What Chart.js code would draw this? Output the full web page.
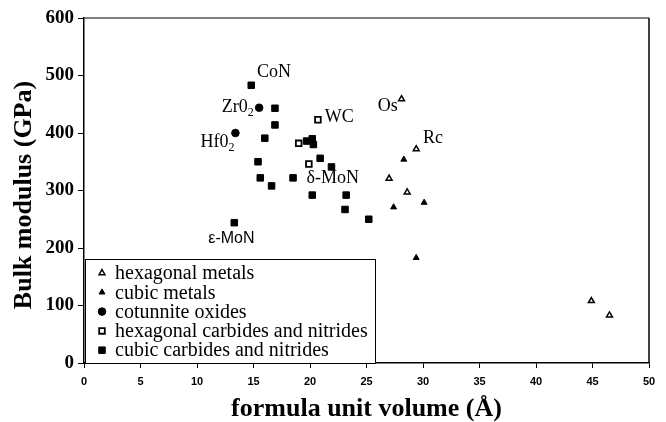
<!DOCTYPE html>
<html>
<head>
<meta charset="utf-8">
<script src="https://cdn.jsdelivr.net/npm/chart.js@4.4.1/dist/chart.umd.min.js"></script>
<style>
    html, body { margin: 0; padding: 0; background: #fff; }
    #wrap { width: 666px; height: 422px; }
</style>
</head>
<body>
<div id="wrap"><canvas id="bulkChart" width="666" height="422"></canvas></div>
<script>
// formula unit volume (x) / bulk modulus in GPa (y)
const hexMetalsX = [28.1, 29.4, 27.0, 28.6, 44.9, 46.5];
const hexMetalsY = [459, 372, 321, 297, 108, 83];

const cubicMetalsX = [28.3, 27.4, 30.1, 29.4];
const cubicMetalsY = [354, 271, 279, 183];

const cotunniteX = [15.5, 13.4];
const cotunniteY = [444, 400];

const hexCarbidesX = [20.7, 19.0, 19.9];
const hexCarbidesY = [423, 382, 346];

const cubicCarbidesX = [14.8, 16.9, 16.9, 16.0, 19.7, 20.2, 20.3, 20.9, 21.9, 15.4, 15.6, 16.6, 18.5, 20.2, 23.2, 23.1, 25.2, 13.3];
const cubicCarbidesY = [483, 443, 414, 391, 386, 390, 380, 356, 341, 350, 322, 308, 322, 292, 292, 267, 250, 244];

const seriesNames = [
    'hexagonal metals',
    'cubic metals',
    'cotunnite oxides',
    'hexagonal carbides and nitrides',
    'cubic carbides and nitrides'
];

const xTicks = { min: 0, max: 50, step: 5 };
const yTicks = { min: 0, max: 600, step: 100 };

// compound names placed next to their points
const labelTexts = ['CoN', 'Zr0', 'Hf0', 'WC', 'δ-MoN', 'ε-MoN', 'Os', 'Rc'];
const labelSubs = ['', '2', '2', '', '', '', '', ''];

const serif = '"Liberation Serif", "Times New Roman", serif';
const sans = '"Liberation Sans", Arial, sans-serif';

function toPoints(xs, ys) {
    return xs.map((x, i) => ({ x: x, y: ys[i] }));
}

// where each label sits, in axis units, and how it is set
const labelSpots = [
    { x: 15.3, y: 506, font: '18px ' + serif },
    { x: 12.2, y: 445, font: '18px ' + serif },
    { x: 10.3, y: 384, font: '18px ' + serif },
    { x: 21.3, y: 428, font: '18px ' + serif },
    { x: 19.7, y: 322, font: '18px ' + serif },
    { x: 11.0, y: 217, font: '16px ' + sans },
    { x: 26.0, y: 447, font: '18px ' + serif },
    { x: 30.0, y: 390, font: '18px ' + serif }
];

const annotations = {
    id: 'annotations',
    afterDatasetsDraw(chart) {
        const { ctx, chartArea, scales } = chart;
        ctx.save();

        // frame: grey top, black right
        ctx.lineWidth = 1.5;
        ctx.strokeStyle = '#555';
        ctx.beginPath();
        ctx.moveTo(chartArea.left, chartArea.top);
        ctx.lineTo(chartArea.right, chartArea.top);
        ctx.stroke();
        ctx.strokeStyle = '#000';
        ctx.beginPath();
        ctx.moveTo(chartArea.right, chartArea.top);
        ctx.lineTo(chartArea.right, chartArea.bottom);
        ctx.stroke();

        // point labels
        ctx.fillStyle = '#000';
        ctx.textBaseline = 'middle';
        ctx.textAlign = 'left';
        labelTexts.forEach((txt, i) => {
            const spot = labelSpots[i];
            const px = scales.x.getPixelForValue(spot.x);
            const py = scales.y.getPixelForValue(spot.y);
            ctx.font = spot.font;
            ctx.fillText(txt, px, py);
            if (labelSubs[i]) {
                const w = ctx.measureText(txt).width;
                ctx.font = '12px ' + serif;
                ctx.fillText(labelSubs[i], px + w, py + 6);
            }
        });

        // y axis title
        ctx.font = 'bold 26px ' + serif;
        ctx.textAlign = 'center';
        ctx.translate(24, 195);
        ctx.rotate(-Math.PI / 2);
        ctx.fillText('Bulk modulus (GPa)', 0, 0);
        ctx.restore();

        // legend box in lower left corner
        const boxL = chartArea.left + 1;
        const boxR = chartArea.left + 292;
        const boxT = chartArea.bottom - 104;
        const boxB = chartArea.bottom;
        ctx.save();
        ctx.fillStyle = '#fff';
        ctx.fillRect(boxL, boxT, boxR - boxL, boxB - boxT);
        ctx.strokeStyle = '#000';
        ctx.lineWidth = 1;
        ctx.strokeRect(boxL + 0.5, boxT + 0.5, boxR - boxL - 1, boxB - boxT);
        ctx.font = '20px ' + serif;
        ctx.textBaseline = 'middle';
        ctx.textAlign = 'left';
        chart.data.datasets.forEach((ds, i) => {
            const cy = boxT + 14 + i * 19.3;
            ctx.fillStyle = ds.backgroundColor;
            ctx.strokeStyle = ds.borderColor;
            ctx.lineWidth = ds.borderWidth;
            Chart.helpers.drawPoint(ctx, {
                pointStyle: ds.pointStyle,
                radius: ds.legendRadius,
                borderWidth: ds.borderWidth
            }, boxL + 17, cy);
            ctx.fillStyle = '#000';
            ctx.fillText(ds.label, boxL + 30, cy + 1);
        });
        ctx.restore();
    }
};

new Chart(document.getElementById('bulkChart'), {
    type: 'scatter',
    data: {
        datasets: [{
            label: seriesNames[0],
            data: toPoints(hexMetalsX, hexMetalsY),
            pointStyle: 'triangle',
            pointRadius: 3.4,
            legendRadius: 3.4,
            backgroundColor: '#fff',
            borderColor: '#000',
            borderWidth: 1.5
        }, {
            label: seriesNames[1],
            data: toPoints(cubicMetalsX, cubicMetalsY),
            pointStyle: 'triangle',
            pointRadius: 3.4,
            legendRadius: 3.4,
            backgroundColor: '#000',
            borderColor: '#000',
            borderWidth: 1
        }, {
            label: seriesNames[2],
            data: toPoints(cotunniteX, cotunniteY),
            pointStyle: 'circle',
            pointRadius: 3.8,
            legendRadius: 3.8,
            backgroundColor: '#000',
            borderColor: '#000',
            borderWidth: 1
        }, {
            label: seriesNames[3],
            data: toPoints(hexCarbidesX, hexCarbidesY),
            pointStyle: 'rect',
            pointRadius: 4,
            legendRadius: 4,
            backgroundColor: '#fff',
            borderColor: '#000',
            borderWidth: 1.8
        }, {
            label: seriesNames[4],
            data: toPoints(cubicCarbidesX, cubicCarbidesY),
            pointStyle: 'rect',
            pointRadius: 4.6,
            legendRadius: 4.6,
            backgroundColor: '#000',
            borderColor: '#000',
            borderWidth: 1
        }]
    },
    options: {
        responsive: false,
        animation: false,
        layout: { padding: { top: 18, right: 17, left: 0, bottom: 0 } },
        plugins: {
            legend: { display: false },
            tooltip: { enabled: false }
        },
        scales: {
            x: {
                type: 'linear',
                min: xTicks.min,
                max: xTicks.max,
                ticks: {
                    stepSize: xTicks.step,
                    color: '#000',
                    padding: 7,
                    font: { family: sans, size: 11, weight: 'bold' }
                },
                grid: { drawOnChartArea: false, tickLength: 5, color: '#000' },
                border: { color: '#000', width: 1.5 },
                title: {
                    display: true,
                    text: 'formula unit volume (Å)',
                    color: '#000',
                    font: { family: serif, size: 26, weight: 'bold', lineHeight: 1 },
                    padding: { top: 0, bottom: 0 }
                },
                afterFit: scale => { scale.height = 59; }
            },
            y: {
                min: yTicks.min,
                max: yTicks.max,
                ticks: {
                    stepSize: yTicks.step,
                    color: '#000',
                    padding: 4,
                    font: { family: serif, size: 19, weight: 'bold' }
                },
                grid: { drawOnChartArea: false, tickLength: 6, color: '#000' },
                border: { color: '#000', width: 1.5 },
                afterFit: scale => { scale.width = 84; }
            }
        }
    },
    plugins: [annotations]
});
</script>
</body>
</html>
